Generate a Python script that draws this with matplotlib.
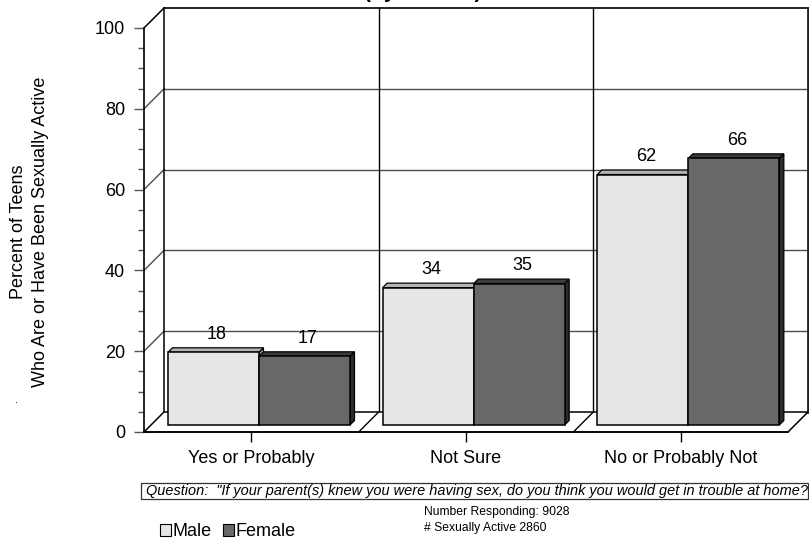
import matplotlib
matplotlib.use("Agg")
import numpy as np
import matplotlib.pyplot as plt
from matplotlib.patches import Polygon, Rectangle, Patch

# survey answers, percent of teens who are / have been sexually active
categories = ["Yes or Probably", "Not Sure", "No or Probably Not"]
series_names = ["Male", "Female"]
male = [18, 34, 62]
female = [17, 35, 66]
y_major = [0, 20, 40, 60, 80, 100]

plt.rcParams['font.family'] = ['Liberation Sans', 'DejaVu Sans']

W, H = 809, 543
fig = plt.figure(figsize=(W / 100, H / 100), dpi=100)
ax = fig.add_axes([144 / W, 111 / H, 644 / W, 404 / H])
ax.set_xlim(0, len(categories))
ax.set_ylim(0, 100)

# pixel -> data helpers for the fake 3d depth
def ox(p):
    return p * len(categories) / 644

def oy(p):
    return p * 100 / 404

WALL = 20      # depth of back wall
PLANE = 7      # where the bars stand
THICK = 4.5    # bar thickness
ncat = len(categories)

# back wall
ax.add_patch(Polygon([(ox(WALL), oy(WALL)), (ncat + ox(WALL), oy(WALL)),
                      (ncat + ox(WALL), 100 + oy(WALL)), (ox(WALL), 100 + oy(WALL))],
                     closed=True, fc='white', ec='none', clip_on=False, zorder=0))
for v in y_major[1:-1]:
    ax.plot([ox(WALL), ncat + ox(WALL)], [v + oy(WALL)] * 2, color='#4d4d4d', lw=1, clip_on=False, zorder=1)
    ax.plot([0, ox(WALL)], [v, v + oy(WALL)], color='#4d4d4d', lw=1, clip_on=False, zorder=1)
ax.plot([ox(WALL), ncat + ox(WALL)], [100 + oy(WALL)] * 2, color='black', lw=1.2, clip_on=False, zorder=1)
ax.plot([0, ox(WALL)], [100, 100 + oy(WALL)], color='black', lw=1.1, clip_on=False, zorder=1)
ax.plot([ox(WALL)] * 2, [oy(WALL), 100 + oy(WALL)], color='black', lw=1.1, clip_on=False, zorder=1)
for i in range(1, ncat):
    ax.plot([i + ox(WALL)] * 2, [oy(WALL), 100 + oy(WALL)], color='black', lw=1, clip_on=False, zorder=1)
ax.plot([ncat + ox(WALL)] * 2, [oy(WALL), 100 + oy(WALL)], color='#222222', lw=2, clip_on=False, zorder=1)

# floor
ax.add_patch(Polygon([(0, 0), (ncat, 0), (ncat + ox(WALL), oy(WALL)), (ox(WALL), oy(WALL))],
                     closed=True, fc='white', ec='black', lw=1.1, clip_on=False, zorder=2))
for i in range(1, ncat):
    ax.plot([i, i + ox(WALL)], [0, oy(WALL)], color='black', lw=1, clip_on=False, zorder=2)

# bars
bw = 0.424
gap = 0.079
faces = [('#e6e6e6', '#b3b3b3', '#999999'), ('#686868', '#3c3c3c', '#2b2b2b')]
for k, vals in enumerate([male, female]):
    front, top, side = faces[k]
    for i, v in enumerate(vals):
        x0 = i + gap + k * bw + ox(PLANE)
        b = oy(PLANE)
        ax.add_patch(Polygon([(x0 + bw, b), (x0 + bw, b + v), (x0 + bw + ox(THICK), b + v + oy(THICK)),
                              (x0 + bw + ox(THICK), b + oy(THICK))],
                             closed=True, fc=side, ec='black', lw=0.9, clip_on=False, zorder=3 + k))
        ax.add_patch(Polygon([(x0, b + v), (x0 + bw, b + v), (x0 + bw + ox(THICK), b + v + oy(THICK)),
                              (x0 + ox(THICK), b + v + oy(THICK))],
                             closed=True, fc=top, ec='black', lw=0.9, clip_on=False, zorder=3 + k))
        ax.add_patch(Rectangle((x0, b), bw, v, fc=front, ec='black', lw=1.1, clip_on=False, zorder=3 + k))
        ax.text(x0 + bw / 2 + ox(3.5), b + v + oy(9.5), str(v), ha='center', va='bottom',
                fontsize=13, zorder=6)

# axes
for s in ['top', 'right']:
    ax.spines[s].set_visible(False)
ax.spines['left'].set_linewidth(1.2)
ax.spines['bottom'].set_linewidth(1.2)
ax.spines['left'].set_zorder(7)
ax.spines['bottom'].set_zorder(7)
ax.set_xticks(np.arange(ncat) + 0.5, categories)
ax.set_yticks(y_major)
ax.set_yticks(np.arange(0, 101, 5), minor=True)
ax.tick_params(axis='y', which='major', length=7.2, width=1, color='#555555', labelsize=13, pad=6.5)
ax.tick_params(axis='y', which='minor', length=4.3, width=1, color='#555555')
ax.tick_params(axis='x', length=7.2, width=1, color='black', labelsize=13, pad=6)
ax.patch.set_visible(False)

fig.text(19 / W, 1 - 232 / H, "Percent of Teens", rotation=90, ha='center', va='center', fontsize=13)
fig.text(41 / W, 1 - 232 / H, "Who Are or Have Been Sexually Active", rotation=90,
         ha='center', va='center', fontsize=13)
fig.text(17 / W, 1 - 405 / H, ".", ha='center', va='bottom', fontsize=8)

# partially visible title
fig.text(423 / W, 1 + 2.4 / H, "(by Gender)", ha='center', va='baseline', fontsize=15, fontweight='bold')

# question box
fig.add_artist(Rectangle((141 / W, 1 - 499 / H), 667 / W, 16 / H, transform=fig.transFigure,
                         fc='white', ec='#333333', lw=0.9))
fig.text(146 / W, 1 - 491 / H,
         'Question:  "If your parent(s) knew you were having sex, do you think you would get in trouble at home?',
         ha='left', va='center', fontsize=10.45, style='italic')

fig.text(424 / W, 1 - 512 / H, "Number Responding: 9028", ha='left', va='center', fontsize=8.7)
fig.text(424 / W, 1 - 528 / H, "# Sexually Active 2860", ha='left', va='center', fontsize=8.7)

handles = [Patch(fc=faces[0][0], ec='black', lw=0.8), Patch(fc=faces[1][0], ec='black', lw=0.8)]
fig.legend(handles, series_names, loc='center left', bbox_to_anchor=(160 / W, 1 - 532 / H),
           ncol=2, frameon=False, fontsize=13, handlelength=0.6, handleheight=0.6,
           handletextpad=0.12, columnspacing=0.6, borderpad=0, borderaxespad=0)

fig.savefig("out.png", dpi=100)
